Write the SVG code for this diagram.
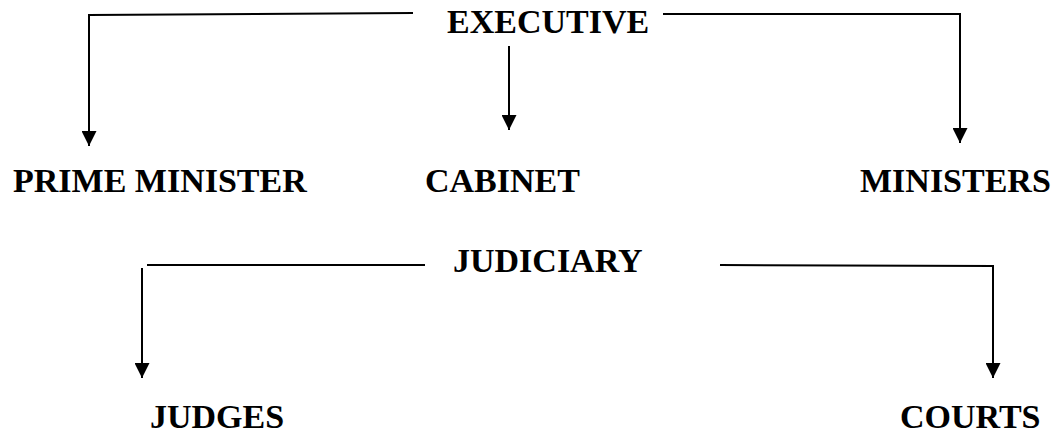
<svg xmlns="http://www.w3.org/2000/svg" width="1058" height="444" viewBox="0 0 1058 444">
<style>
.t{font-family:"Liberation Serif","Times New Roman",serif;font-weight:bold;font-size:34px;fill:#000}
.c{fill:none;stroke:#000;stroke-width:2}
</style>
<defs>
<marker id="arr" markerUnits="userSpaceOnUse" markerWidth="16" markerHeight="15" viewBox="0 0 16 15" refX="15" refY="7.5" orient="auto">
<path d="M0,0 L15,7.5 L0,15 z" fill="#000"/>
</marker>
</defs>
<rect width="1058" height="444" fill="#fff"/>
<g id="connectors">
<path class="c" d="M413,13 L89,15 L89,146" marker-end="url(#arr)"/>
<path class="c" d="M509,46 L509,130" marker-end="url(#arr)"/>
<path class="c" d="M663,14 L960,14 L960,143" marker-end="url(#arr)"/>
<path class="c" d="M147,265 L425,265"/>
<path class="c" d="M142,268 L142,378" marker-end="url(#arr)"/>
<path class="c" d="M720,265 L993,266 L993,378" marker-end="url(#arr)"/>
</g>
<g id="executive"><text class="t" x="447" y="33">EXECUTIVE</text></g>
<g id="prime-minister"><text class="t" x="13" y="192">PRIME MINISTER</text></g>
<g id="cabinet"><text class="t" x="425" y="192">CABINET</text></g>
<g id="ministers"><text class="t" x="860" y="192">MINISTERS</text></g>
<g id="judiciary"><text class="t" x="453" y="272">JUDICIARY</text></g>
<g id="judges"><text class="t" x="150" y="428">JUDGES</text></g>
<g id="courts"><text class="t" x="900" y="428">COURTS</text></g>
</svg>
